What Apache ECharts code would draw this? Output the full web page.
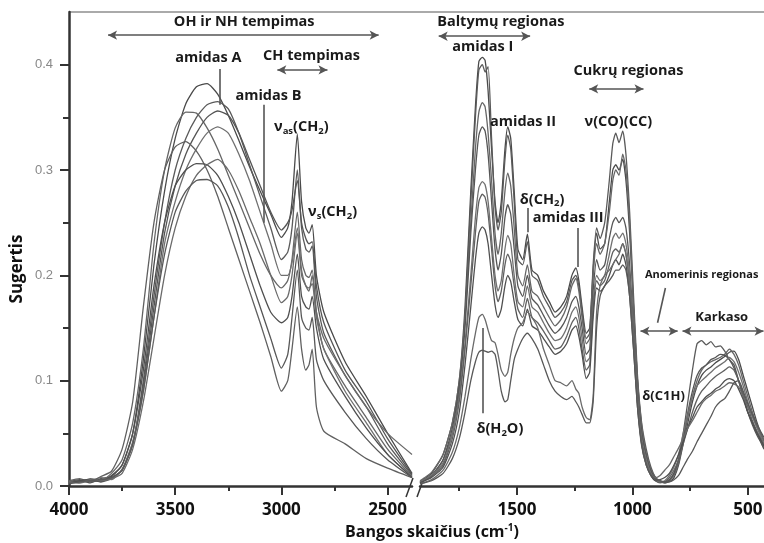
<!DOCTYPE html>
<html>
<head>
<meta charset="utf-8">
<script src="https://cdn.jsdelivr.net/npm/echarts@6/dist/echarts.min.js"></script>
<style>html,body{margin:0;background:#fff}#chart{width:764px;height:543px}</style>
</head>
<body>
<div id="chart"></div>
<script>
// ---- left part of the spectrum (4000 - 2385 cm-1) ----
var leftWaves = [4000,3950,3900,3850,3800,3750,3700,3650,3600,3550,3500,3450,3400,3350,3300,3250,3200,3150,3100,3050,3000,2970,2950,2925,2905,2885,2870,2855,2835,2800,2700,2600,2500,2385];
var leftSpectra = [
  [0.004,0.006,0.003,0.007,0.009,0.02,0.05,0.12,0.21,0.28,0.33,0.363,0.379,0.382,0.372,0.352,0.328,0.303,0.28,0.258,0.236,0.245,0.27,0.334,0.27,0.245,0.24,0.248,0.2,0.165,0.118,0.085,0.05,0.012],
  [0.003,0.005,0.004,0.006,0.008,0.015,0.04,0.1,0.18,0.25,0.3,0.33,0.35,0.362,0.365,0.358,0.335,0.305,0.275,0.245,0.215,0.222,0.245,0.3,0.245,0.225,0.222,0.228,0.18,0.145,0.105,0.075,0.04,0.01],
  [0.005,0.004,0.007,0.005,0.012,0.025,0.06,0.13,0.23,0.3,0.34,0.355,0.354,0.34,0.32,0.295,0.27,0.245,0.22,0.2,0.188,0.195,0.215,0.26,0.215,0.2,0.198,0.205,0.165,0.13,0.095,0.065,0.035,0.009],
  [0.003,0.004,0.006,0.004,0.007,0.015,0.04,0.095,0.17,0.24,0.285,0.315,0.335,0.35,0.356,0.352,0.335,0.31,0.285,0.26,0.243,0.25,0.262,0.29,0.25,0.235,0.23,0.232,0.19,0.155,0.11,0.08,0.045,0.011],
  [0.004,0.003,0.005,0.008,0.006,0.016,0.042,0.09,0.16,0.23,0.27,0.3,0.32,0.335,0.341,0.335,0.315,0.29,0.26,0.23,0.2,0.2,0.212,0.245,0.205,0.19,0.188,0.192,0.16,0.13,0.09,0.06,0.03,0.009],
  [0.005,0.007,0.004,0.009,0.014,0.035,0.08,0.17,0.25,0.3,0.322,0.327,0.318,0.3,0.275,0.245,0.215,0.185,0.155,0.123,0.09,0.1,0.13,0.17,0.13,0.11,0.115,0.13,0.075,0.052,0.04,0.026,0.017,0.008],
  [0.003,0.005,0.006,0.004,0.01,0.02,0.05,0.11,0.19,0.25,0.285,0.3,0.306,0.305,0.295,0.275,0.25,0.22,0.19,0.165,0.155,0.16,0.18,0.22,0.18,0.17,0.168,0.18,0.15,0.12,0.085,0.055,0.03,0.008],
  [0.004,0.003,0.006,0.005,0.007,0.012,0.035,0.08,0.14,0.2,0.245,0.275,0.295,0.305,0.31,0.3,0.28,0.255,0.23,0.2,0.174,0.18,0.2,0.24,0.2,0.19,0.185,0.2,0.165,0.14,0.105,0.075,0.05,0.03],
  [0.002,0.004,0.005,0.006,0.008,0.015,0.04,0.09,0.16,0.22,0.26,0.28,0.29,0.291,0.285,0.265,0.235,0.2,0.17,0.14,0.112,0.125,0.16,0.205,0.16,0.15,0.148,0.16,0.12,0.1,0.07,0.045,0.025,0.008]
];

// ---- right part of the spectrum (1920 - 430 cm-1) ----
var rightWaves = [1920,1870,1820,1780,1750,1725,1700,1680,1665,1650,
  1638,1625,1610,1595,1582,1568,1552,1540,1527,1512,
  1496,1475,1455,1435,1410,1385,1360,1335,1310,1285,
  1262,1245,1232,1218,1200,1185,1170,1155,1140,1120,
  1100,1085,1072,1058,1042,1028,1012,995,978,960,
  940,920,900,880,860,840,820,800,780,760,
  740,720,700,680,660,640,620,600,580,560,
  540,520,500,480,460,440,430];
var rightSpectra = [
  [0.004,0.012,0.03,0.06,0.1,0.17,0.28,0.36,0.403,0.407,
   0.404,0.375,0.32,0.27,0.25,0.27,0.32,0.341,0.33,0.28,
   0.225,0.215,0.239,0.205,0.2,0.185,0.175,0.165,0.17,0.18,
   0.2,0.207,0.195,0.17,0.145,0.15,0.205,0.24,0.225,0.23,
   0.27,0.3,0.305,0.3,0.31,0.29,0.24,0.17,0.1,0.055,
   0.03,0.015,0.008,0.004,0.003,0.004,0.008,0.02,0.04,0.06,
   0.08,0.095,0.105,0.11,0.113,0.117,0.12,0.123,0.127,0.128,
   0.12,0.105,0.09,0.075,0.06,0.048,0.043],
  [0.003,0.01,0.025,0.05,0.09,0.16,0.27,0.35,0.395,0.4,
   0.393,0.398,0.33,0.265,0.243,0.26,0.31,0.333,0.32,0.27,
   0.215,0.21,0.232,0.2,0.195,0.18,0.17,0.16,0.165,0.175,
   0.195,0.2,0.19,0.165,0.14,0.145,0.21,0.245,0.235,0.25,
   0.29,0.325,0.335,0.326,0.337,0.315,0.26,0.18,0.105,0.06,
   0.035,0.018,0.008,0.004,0.003,0.005,0.012,0.025,0.05,0.08,
   0.11,0.135,0.138,0.134,0.137,0.132,0.133,0.128,0.12,0.115,
   0.1,0.085,0.07,0.06,0.05,0.04,0.035],
  [0.005,0.013,0.03,0.06,0.1,0.16,0.25,0.32,0.355,0.364,
   0.36,0.335,0.29,0.24,0.22,0.24,0.28,0.297,0.285,0.245,
   0.2,0.19,0.21,0.185,0.18,0.17,0.16,0.152,0.158,0.17,
   0.19,0.197,0.185,0.16,0.135,0.14,0.2,0.23,0.22,0.23,
   0.26,0.29,0.3,0.295,0.315,0.3,0.25,0.17,0.1,0.058,
   0.03,0.016,0.008,0.005,0.004,0.006,0.01,0.022,0.042,0.065,
   0.085,0.1,0.11,0.115,0.118,0.12,0.122,0.125,0.13,0.125,
   0.115,0.1,0.085,0.07,0.058,0.047,0.042],
  [0.004,0.01,0.025,0.055,0.095,0.15,0.24,0.3,0.333,0.341,
   0.337,0.315,0.27,0.225,0.205,0.22,0.255,0.267,0.258,0.225,
   0.19,0.18,0.2,0.178,0.172,0.162,0.152,0.145,0.15,0.16,
   0.175,0.18,0.17,0.15,0.125,0.13,0.185,0.215,0.205,0.21,
   0.235,0.25,0.255,0.25,0.255,0.245,0.21,0.15,0.09,0.05,
   0.028,0.014,0.007,0.004,0.004,0.006,0.012,0.025,0.045,0.07,
   0.09,0.105,0.112,0.115,0.12,0.122,0.125,0.124,0.12,0.112,
   0.1,0.085,0.07,0.058,0.048,0.04,0.036],
  [0.004,0.01,0.022,0.05,0.085,0.135,0.2,0.255,0.283,0.289,
   0.286,0.27,0.235,0.2,0.185,0.195,0.225,0.238,0.23,0.2,
   0.175,0.17,0.19,0.17,0.165,0.155,0.145,0.138,0.14,0.15,
   0.165,0.17,0.16,0.14,0.118,0.122,0.175,0.2,0.195,0.2,
   0.22,0.235,0.24,0.235,0.24,0.23,0.2,0.145,0.085,0.045,
   0.025,0.012,0.006,0.004,0.005,0.01,0.018,0.03,0.05,0.068,
   0.085,0.095,0.1,0.104,0.108,0.112,0.115,0.118,0.122,0.118,
   0.108,0.095,0.08,0.066,0.055,0.045,0.04],
  [0.003,0.009,0.02,0.045,0.08,0.13,0.19,0.24,0.27,0.277,
   0.274,0.258,0.225,0.19,0.175,0.185,0.21,0.22,0.213,0.19,
   0.168,0.16,0.178,0.16,0.155,0.147,0.138,0.13,0.132,0.142,
   0.155,0.16,0.15,0.13,0.11,0.115,0.168,0.195,0.19,0.195,
   0.21,0.222,0.225,0.222,0.23,0.22,0.19,0.14,0.08,0.042,
   0.022,0.01,0.005,0.003,0.004,0.008,0.015,0.025,0.04,0.055,
   0.07,0.082,0.09,0.095,0.1,0.104,0.107,0.11,0.113,0.11,
   0.1,0.088,0.075,0.062,0.052,0.043,0.038],
  [0.003,0.008,0.018,0.04,0.07,0.115,0.17,0.215,0.24,0.246,
   0.243,0.23,0.2,0.172,0.16,0.168,0.19,0.2,0.194,0.175,
   0.158,0.152,0.168,0.152,0.148,0.14,0.132,0.125,0.128,0.135,
   0.148,0.152,0.142,0.125,0.102,0.108,0.16,0.188,0.185,0.19,
   0.2,0.21,0.215,0.21,0.22,0.21,0.18,0.13,0.075,0.04,
   0.02,0.01,0.005,0.006,0.008,0.012,0.02,0.03,0.042,0.055,
   0.065,0.075,0.08,0.085,0.088,0.092,0.095,0.1,0.102,0.1,
   0.092,0.082,0.07,0.06,0.05,0.042,0.038],
  [0.002,0.006,0.015,0.032,0.055,0.085,0.12,0.145,0.16,0.163,
   0.158,0.148,0.138,0.136,0.125,0.11,0.104,0.108,0.125,0.14,
   0.15,0.155,0.165,0.16,0.15,0.13,0.115,0.1,0.098,0.095,
   0.1,0.092,0.088,0.075,0.065,0.063,0.085,0.165,0.19,0.2,
   0.205,0.21,0.215,0.22,0.23,0.22,0.19,0.135,0.08,0.04,
   0.02,0.012,0.008,0.01,0.015,0.02,0.028,0.036,0.045,0.055,
   0.062,0.07,0.078,0.083,0.086,0.09,0.092,0.095,0.098,0.097,
   0.094,0.085,0.075,0.066,0.056,0.048,0.044],
  [0.002,0.005,0.012,0.026,0.045,0.07,0.1,0.118,0.127,0.129,
   0.128,0.127,0.128,0.125,0.11,0.09,0.08,0.082,0.1,0.12,
   0.13,0.14,0.145,0.14,0.13,0.115,0.1,0.09,0.085,0.082,
   0.085,0.08,0.075,0.068,0.06,0.06,0.08,0.15,0.18,0.19,
   0.195,0.2,0.205,0.205,0.21,0.205,0.18,0.13,0.075,0.038,
   0.02,0.01,0.006,0.005,0.004,0.004,0.006,0.01,0.018,0.026,
   0.033,0.042,0.05,0.058,0.066,0.075,0.08,0.083,0.09,0.098,
   0.1,0.09,0.078,0.068,0.058,0.05,0.046]
];

// axis ticks
var leftMajor = [4000, 3500, 3000, 2500];
var leftMinor = [3750, 3250, 2750];
var rightMajor = [1500, 1000, 500];
var rightMinor = [1750, 1250, 750];
var yMajor = [0, 0.1, 0.2, 0.3, 0.4];
var yMinor = [0.05, 0.15, 0.25, 0.35];

// annotations [wavenumber, absorbance]
var leftNotes = [
  {text: 'OH ir NH tempimas', at: [3175, 0.441]},
  {text: 'amidas A', at: [3344, 0.406]},
  {text: 'CH tempimas', at: [2858, 0.408]},
  {text: 'amidas B', at: [3061, 0.37]},
  {text: '{t|ν}{s|as}{t|(CH}{s|2}{t|)}', at: [2906, 0.341]},
  {text: '{t|ν}{s|s}{t|(CH}{s|2}{t|)}', at: [2759, 0.26]}
];
var leftArrows = [[3816, 2542, 0.428], [3019, 2783, 0.395]];
var leftLeaders = [[3288, 0.396, 3288, 0.362], [3085, 0.362, 3085, 0.25]];

var rightNotes = [
  {text: 'Baltymų regionas', at: [1570, 0.441]},
  {text: 'amidas I', at: [1648, 0.417]},
  {text: 'Cukrų regionas', at: [1017, 0.394]},
  {text: 'amidas II', at: [1474, 0.346]},
  {text: 'ν(CO)(CC)', at: [1061, 0.346]},
  {text: '{t|δ(CH}{s|2}{t|)}', at: [1391, 0.272]},
  {text: 'amidas III', at: [1278, 0.255]},
  {text: 'Anomerinis regionas', at: [700, 0.2], size: 11},
  {text: 'Karkaso', at: [613, 0.16], size: 13},
  {text: 'δ(C1H)', at: [865, 0.085], size: 13},
  {text: '{t|δ(H}{s|2}{t|O)}', at: [1574, 0.054]}
];
var rightArrows = [[1839, 1443, 0.427], [1187, 952, 0.377], [965, 804, 0.147], [783, 432, 0.147]];
var rightLeaders = [[1452, 0.264, 1452, 0.241], [1235, 0.245, 1235, 0.208], [857, 0.188, 891, 0.155], [1648, 0.15, 1648, 0.069]];

var FONT = 'Open Sans';
var lineColors = ['#4a4a4a', '#5a5a5a', '#666666', '#555555', '#707070', '#606060', '#4f4f4f', '#6a6a6a', '#585858'];

function markers(notes, arrows, leaders) {
    var lines = [];
    arrows.forEach(function (a) {
        lines.push([{coord: [a[0], a[2]]}, {coord: [a[1], a[2]]}]);
    });
    leaders.forEach(function (l) {
        lines.push([{coord: [l[0], l[1]], symbol: 'none'}, {coord: [l[2], l[3]], symbol: 'none'}]);
    });
    return {
        markLine: {
            silent: true, animation: false,
            symbol: ['arrow', 'arrow'], symbolSize: [7, 9],
            label: {show: false},
            lineStyle: {color: '#555', width: 1.6, type: 'solid'},
            emphasis: {disabled: true},
            data: lines
        },
        markPoint: {
            silent: true, animation: false,
            symbol: 'circle', symbolSize: 0,
            data: notes.map(function (n) {
                var fs = n.size || 14.5;
                return {
                    coord: n.at,
                    label: {
                        show: true, position: 'inside', formatter: n.text,
                        color: '#1a1a1a', fontSize: fs, fontWeight: 'bold', fontFamily: FONT,
                        rich: {
                            t: {fontSize: fs, fontWeight: 'bold', fontFamily: FONT, color: '#1a1a1a'},
                            s: {fontSize: 9.5, fontWeight: 'bold', fontFamily: FONT, color: '#1a1a1a', padding: [8, 0, 0, 0]}
                        }
                    }
                };
            })
        }
    };
}

var series = [];
leftSpectra.forEach(function (vals, i) {
    var s = {
        type: 'line', xAxisIndex: 0, yAxisIndex: 0,
        data: leftWaves.map(function (w, j) { return [w, vals[j]]; }),
        showSymbol: false, smooth: 0.2, animation: false, silent: true,
        lineStyle: {color: lineColors[i], width: 1.3}
    };
    if (i === 0) Object.assign(s, markers(leftNotes, leftArrows, leftLeaders));
    series.push(s);
});
rightSpectra.forEach(function (vals, i) {
    var s = {
        type: 'line', xAxisIndex: 2, yAxisIndex: 2,
        data: rightWaves.map(function (w, j) { return [w, vals[j]]; }),
        showSymbol: false, smooth: 0.2, animation: false, silent: true,
        lineStyle: {color: lineColors[i], width: 1.3}
    };
    if (i === 0) Object.assign(s, markers(rightNotes, rightArrows, rightLeaders));
    series.push(s);
});

function majorX(grid, min, max, ticks) {
    return {
        gridIndex: grid, type: 'value', min: min, max: max, inverse: true, position: 'bottom',
        axisLine: {lineStyle: {color: '#333', width: 2.5}},
        splitLine: {show: false},
        axisTick: {customValues: ticks, length: 9, lineStyle: {color: '#333', width: 2}},
        axisLabel: {customValues: ticks, formatter: function (v) { return String(v); },
            color: '#111', fontSize: 17, fontWeight: 'bold', fontFamily: FONT, margin: 16}
    };
}
function minorX(grid, min, max, ticks) {
    return {
        gridIndex: grid, type: 'value', min: min, max: max, inverse: true, position: 'bottom',
        axisLine: {show: false}, splitLine: {show: false}, axisLabel: {show: false},
        axisTick: {customValues: ticks, length: 5, lineStyle: {color: '#333', width: 2}}
    };
}

var option = {
    backgroundColor: '#fff',
    grid: [
        {left: 69, top: 12, width: 343, height: 474, outerBoundsMode: 'none', containLabel: false},
        {left: 420, top: 12, width: 344, height: 474, outerBoundsMode: 'none', containLabel: false}
    ],
    xAxis: [
        majorX(0, 2385, 4000, leftMajor),
        minorX(0, 2385, 4000, leftMinor),
        majorX(1, 430, 1920, rightMajor),
        minorX(1, 430, 1920, rightMinor)
    ],
    yAxis: [
        {
            gridIndex: 0, type: 'value', min: 0, max: 0.45, position: 'left',
            axisLine: {show: true, lineStyle: {color: '#333', width: 2.5}},
            splitLine: {show: false},
            axisTick: {show: true, customValues: yMajor, length: 9, lineStyle: {color: '#333', width: 2}},
            axisLabel: {customValues: yMajor, formatter: function (v) { return v.toFixed(1); },
                color: '#888', fontSize: 13, fontFamily: 'Liberation Sans', margin: 16}
        },
        {
            gridIndex: 0, type: 'value', min: 0, max: 0.45, position: 'left',
            axisLine: {show: false}, splitLine: {show: false}, axisLabel: {show: false},
            axisTick: {show: true, customValues: yMinor, length: 6, lineStyle: {color: '#333', width: 2}}
        },
        {gridIndex: 1, type: 'value', min: 0, max: 0.45, show: false}
    ],
    graphic: [
        {type: 'line', shape: {x1: 69, y1: 12, x2: 764, y2: 12}, style: {stroke: '#aaa', lineWidth: 2}, silent: true},
        {type: 'line', shape: {x1: 406, y1: 497, x2: 413, y2: 478}, style: {stroke: '#333', lineWidth: 1.5}, silent: true},
        {type: 'line', shape: {x1: 417, y1: 497, x2: 424, y2: 478}, style: {stroke: '#333', lineWidth: 1.5}, silent: true},
        {type: 'text', x: 17, y: 269, rotation: Math.PI / 2, silent: true,
            style: {text: 'Sugertis', align: 'center', verticalAlign: 'middle', fill: '#111',
                font: 'bold 17px "Open Sans"'}},
        {type: 'text', x: 432, y: 532, silent: true,
            style: {text: '{n|Bangos skaičius (cm}{p|-1}{n|)}', align: 'center', verticalAlign: 'middle',
                rich: {
                    n: {fontSize: 16, fontWeight: 'bold', fontFamily: FONT, fill: '#111'},
                    p: {fontSize: 10, fontWeight: 'bold', fontFamily: FONT, fill: '#111', padding: [0, 0, 8, 0]}
                }}}
    ],
    series: series
};

var myChart = echarts.init(document.getElementById('chart'));
myChart.setOption(option);
</script>
</body>
</html>
